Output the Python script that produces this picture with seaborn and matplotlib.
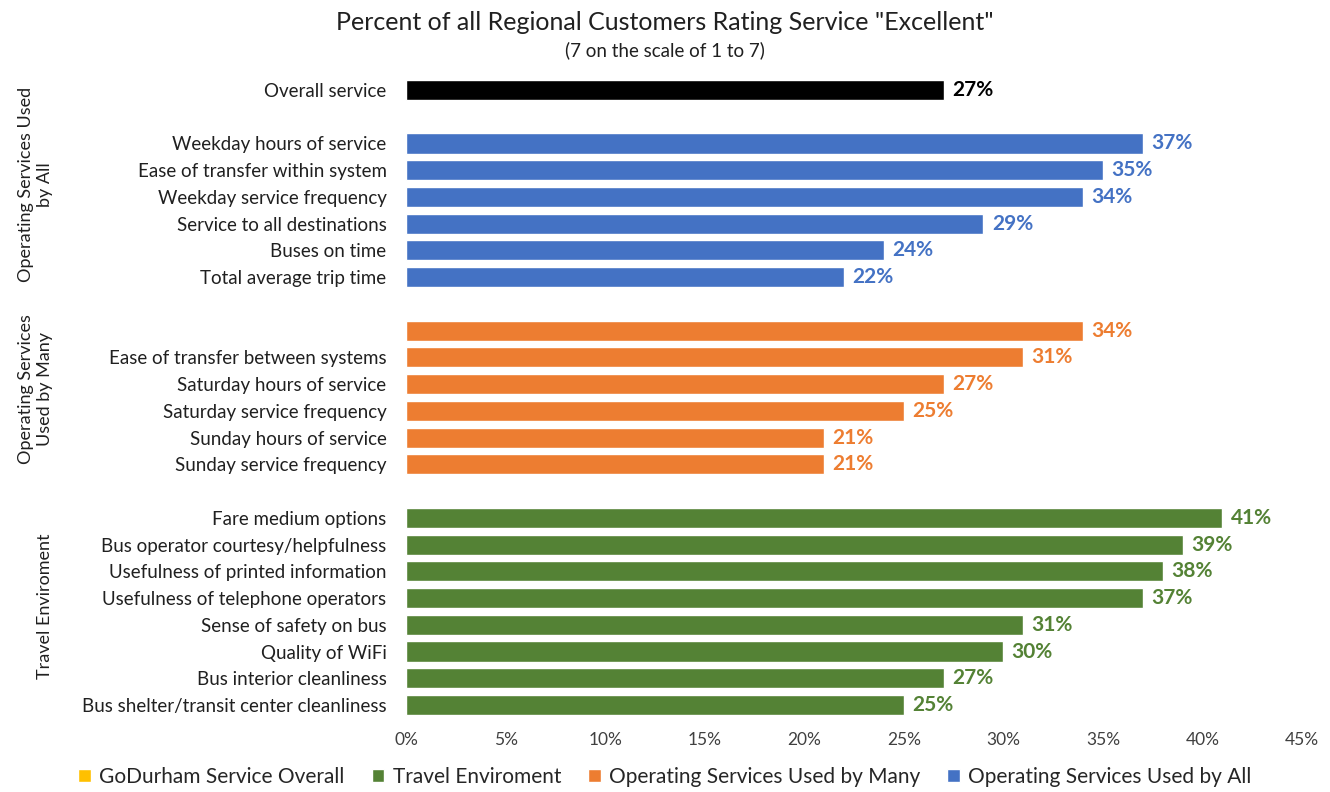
#!/usr/bin/env python3
"""Percent of regional customers rating service "Excellent" - horizontal bars by group."""
import numpy as np
import pandas as pd
import matplotlib.pyplot as plt
import matplotlib.transforms as mtransforms
from matplotlib.patches import Patch
import seaborn as sns

# --- data -------------------------------------------------------------
overall_labels = ["Overall service"]
overall_values = [27]

all_labels = ["Weekday hours of service", "Ease of transfer within system",
              "Weekday service frequency", "Service to all destinations",
              "Buses on time", "Total average trip time"]
all_values = [37, 35, 34, 29, 24, 22]

many_labels = ["", "Ease of transfer between systems", "Saturday hours of service",
               "Saturday service frequency", "Sunday hours of service",
               "Sunday service frequency"]
many_values = [34, 31, 27, 25, 21, 21]

travel_labels = ["Fare medium options", "Bus operator courtesy/helpfulness",
                 "Usefulness of printed information", "Usefulness of telephone operators",
                 "Sense of safety on bus", "Quality of WiFi", "Bus interior cleanliness",
                 "Bus shelter/transit center cleanliness"]
travel_values = [41, 39, 38, 37, 31, 30, 27, 25]

group_names = ["GoDurham Service Overall", "Travel Enviroment",
               "Operating Services Used by Many", "Operating Services Used by All"]
x_ticks = [0, 5, 10, 15, 20, 25, 30, 35, 40, 45]

# --- build rows (a blank row between groups) ----------------------------
rows = []
pos = 0
for grp, labels, values in [
    ("GoDurham Service Overall", overall_labels, overall_values),
    ("Operating Services Used by All", all_labels, all_values),
    ("Operating Services Used by Many", many_labels, many_values),
    ("Travel Enviroment", travel_labels, travel_values),
]:
    for lab, val in zip(labels, values):
        rows.append({"pos": pos, "label": lab, "value": val, "group": grp})
        pos += 1
    pos += 1  # gap
df = pd.DataFrame(rows)

bar_colors = {"GoDurham Service Overall": "#000000",
              "Travel Enviroment": "#548235",
              "Operating Services Used by Many": "#ED7D31",
              "Operating Services Used by All": "#4472C4"}
legend_colors = {"GoDurham Service Overall": "#FFC000",
                 "Travel Enviroment": "#548235",
                 "Operating Services Used by Many": "#ED7D31",
                 "Operating Services Used by All": "#4472C4"}

sns.set_theme(style="white")
plt.rcParams["font.family"] = ["Lato", "DejaVu Sans"]

fig = plt.figure(figsize=(13.3, 7.92), dpi=100)
ax = fig.add_axes([0.3053, 0.0896, 0.6737, 0.817])

hue_order = ["GoDurham Service Overall", "Operating Services Used by All",
             "Operating Services Used by Many", "Travel Enviroment"]
sns.barplot(data=df, x="value", y="pos", hue="group", hue_order=hue_order,
            palette=bar_colors, orient="h", native_scale=True, dodge=False,
            width=0.75, legend=False, ax=ax, saturation=1)

for cont, grp in zip(ax.containers, hue_order):
    ax.bar_label(cont, fmt="%d%%", padding=6, color=bar_colors[grp],
                 fontweight="bold", fontsize=15)

ax.set_xlim(0, 45)
ax.set_ylim(23.6, -0.6)
ax.set_xticks(x_ticks)
ax.set_xticklabels([f"{t}%" for t in x_ticks], fontsize=12.5, color="#404040")
ax.set_yticks(df["pos"])
ax.set_yticklabels(df["label"], fontsize=13.5, color="#202020")
ax.tick_params(axis="y", length=0, pad=14)
ax.tick_params(axis="x", length=0, pad=8)
ax.set_xlabel("")
ax.set_ylabel("")
sns.despine(ax=ax, left=True, bottom=True)

# group labels on the far left
trans = mtransforms.blended_transform_factory(fig.transFigure, ax.transData)
for txt, yc in [("Operating Services Used\nby All", 3.55),
                ("Operating Services\nUsed by Many", 11.2),
                ("Travel Enviroment", 19.3)]:
    fig.text(53 / 1330, yc, txt, transform=trans, rotation=90, ha="right",
             va="center", multialignment="center", fontsize=13, color="#202020")

fig.text(0.5, 1 - 22 / 792, 'Percent of all Regional Customers Rating Service "Excellent"',
         ha="center", va="center", fontsize=18, color="#202020")
fig.text(0.5, 1 - 50 / 792, "(7 on the scale of 1 to 7)",
         ha="center", va="center", fontsize=13.5, color="#202020")

handles = [Patch(facecolor=legend_colors[g], label=g) for g in group_names]
fig.legend(handles=handles, loc="center", bbox_to_anchor=(0.5, 1 - 777 / 792),
           ncol=4, frameon=False, fontsize=15, handlelength=0.6, handleheight=0.6,
           handletextpad=0.4, columnspacing=1.3)

plt.savefig("out.png", dpi=100)
